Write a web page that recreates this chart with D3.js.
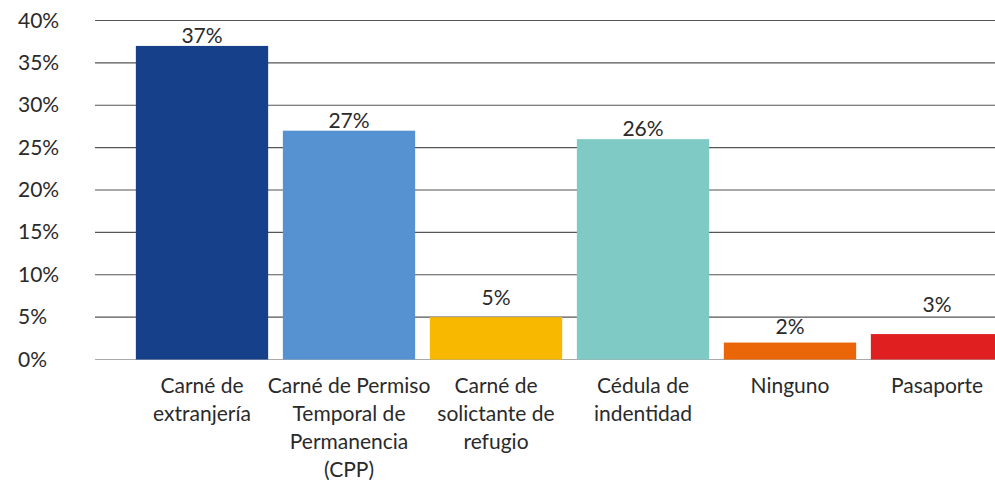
<!doctype html>
<html>
  <head>
    <script src="https://cdnjs.cloudflare.com/ajax/libs/d3/7.8.5/d3.min.js"></script>
    <style>
      body { margin: 0; background: #fff; }
      svg { display: block; font-family: Lato, "Open Sans", sans-serif; }
    </style>
  </head>
  <body>
    <svg width="995" height="488"></svg>
    <script>
      var categories = [
        ["Carné de", "extranjería"],
        ["Carné de Permiso", "Temporal de", "Permanencia", "(CPP)"],
        ["Carné de", "solictante de", "refugio"],
        ["Cédula de", "indentidad"],
        ["Ninguno"],
        ["Pasaporte"]
      ];
      var values = [37, 27, 5, 26, 2, 3];
      var colors = ["#17408b", "#5692d1", "#f8b800", "#7fcac5", "#eb6608", "#e02020"];
      var yTicks = [0, 5, 10, 15, 20, 25, 30, 35, 40];
      // gap between bar top and its value label, as placed in the original
      var labelGap = [3, 3, 12, 3, 9, 22];

      var svg = d3.select("svg");
      var x = d3.scaleBand().domain(d3.range(values.length)).range([128.5, 1010.5]).paddingInner(0.1).paddingOuter(0.05);
      var y = d3.scaleLinear().domain([0, 40]).range([359.5, 20.5]);

      // gridlines
      svg.append("g").selectAll("line")
        .data(yTicks).enter().append("line")
          .attr("x1", 95).attr("x2", 995)
          .attr("y1", d => y(d)).attr("y2", d => y(d))
          .attr("stroke", d => d === 0 ? "#aaa" : "#555")
          .attr("stroke-width", 1.2);

      svg.append("g").selectAll("text")
        .data(yTicks).enter().append("text")
          .attr("x", 18).attr("y", d => y(d) + 7)
          .attr("font-size", 21).attr("fill", "#2a2a2a")
          .text(d => d + "%");

      // bars
      svg.append("g").selectAll("rect")
        .data(values).enter().append("rect")
          .attr("x", (d, i) => x(i)).attr("width", x.bandwidth())
          .attr("y", d => y(d)).attr("height", d => y(0) - y(d))
          .attr("fill", (d, i) => colors[i]);

      svg.append("g").selectAll("text")
        .data(values).enter().append("text")
          .attr("x", (d, i) => x(i) + x.bandwidth() / 2)
          .attr("y", (d, i) => y(d) - labelGap[i])
          .attr("text-anchor", "middle")
          .attr("font-size", 21).attr("fill", "#2a2a2a")
          .text(d => d + "%");

      // category labels
      var cat = svg.append("g").selectAll("text")
        .data(categories).enter().append("text")
          .attr("x", (d, i) => x(i) + x.bandwidth() / 2)
          .attr("text-anchor", "middle")
          .attr("font-size", 21).attr("fill", "#2a2a2a");
      cat.selectAll("tspan")
        .data(d => d).enter().append("tspan")
          .attr("x", function() { return this.parentNode.getAttribute("x"); })
          .attr("y", (d, j) => 393 + j * 28)
          .text(d => d);
    </script>
  </body>
</html>
